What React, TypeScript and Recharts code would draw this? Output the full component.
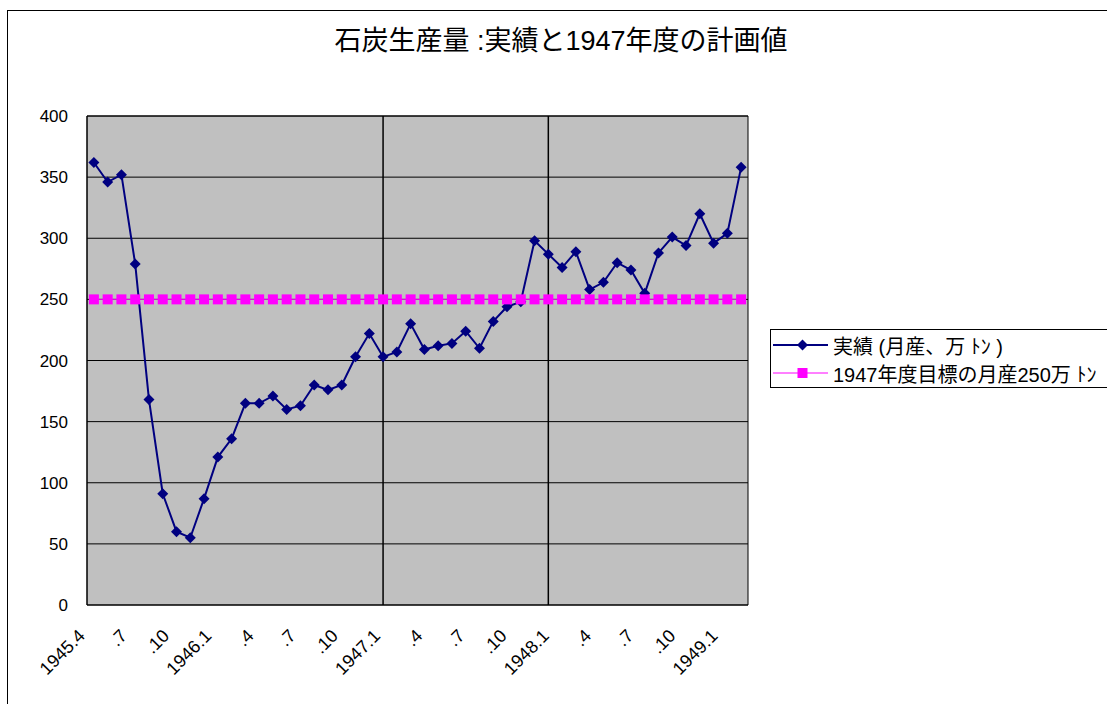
import { LineChart, Line, XAxis, YAxis, CartesianGrid, ReferenceLine, ReferenceArea, Legend } from 'recharts';

const FONT = '"Liberation Sans", Arial, "Noto Sans CJK JP", sans-serif';

// one label per month, April 1945 .. March 1949
const months = [
  '1945.4', '.5', '.6', '.7', '.8', '.9', '.10', '.11', '.12',
  '1946.1', '.2', '.3', '.4', '.5', '.6', '.7', '.8', '.9', '.10', '.11', '.12',
  '1947.1', '.2', '.3', '.4', '.5', '.6', '.7', '.8', '.9', '.10', '.11', '.12',
  '1948.1', '.2', '.3', '.4', '.5', '.6', '.7', '.8', '.9', '.10', '.11', '.12',
  '1949.1', '.2', '.3',
];

// 実績 (月産、万トン)
const actual = [
  362, 346, 352, 279, 168, 91, 60, 55, 87,
  121, 136, 165, 165, 171, 160, 163, 180, 176, 180, 203, 222,
  203, 207, 230, 209, 212, 214, 224, 210, 232, 244, 248, 298,
  287, 276, 289, 258, 264, 280, 274, 255, 288, 301, 294, 320,
  296, 304, 358,
];

// 1947年度目標
const target = months.map(() => 250);

const labelIdx = [0, 3, 6, 9, 12, 15, 18, 21, 24, 27, 30, 33, 36, 39, 42, 45];
const yTicks = [0, 50, 100, 150, 200, 250, 300, 350, 400];
const yearMarks = [21, 33];

const data = months.map((m, i) => ({ i, month: m, actual: actual[i], target: target[i] }));
const boundaries = [...months.map((_, i) => i - 0.5), months.length - 0.5];
const X_DOMAIN: [number, number] = [-0.5, months.length - 0.5];

function Diamond(p: any) {
  const { cx, cy, index } = p;
  if (cx == null || cy == null) return null;
  const r = 5.5;
  return <path key={`d${index}`} d={`M${cx},${cy - r}L${cx + r},${cy}L${cx},${cy + r}L${cx - r},${cy}Z`} fill="#000080" />;
}

function Square(p: any) {
  const { cx, cy, index } = p;
  if (cx == null || cy == null) return null;
  return <rect key={`s${index}`} x={cx - 5} y={cy - 5} width={10} height={10} fill="#ff00ff" />;
}

function MonthTick(p: any) {
  const { x, y, payload } = p;
  const tx = x - 1;
  return (
    <text x={tx} y={y} transform={`rotate(-45 ${tx} ${y})`} textAnchor="end" fontSize={18} fontFamily={FONT} fill="#000">
      {months[payload.value]}
    </text>
  );
}

function LegendBox({ payload }: any) {
  const items = [...(payload || [])].sort((a: any, b: any) => (a.dataKey === 'actual' ? -1 : b.dataKey === 'actual' ? 1 : 0));
  return (
    <div
      style={{
        border: '1px solid #000',
        background: '#fff',
        width: 360,
        height: 59,
        boxSizing: 'border-box',
        padding: '1px 0 0 2px',
        fontFamily: FONT,
        fontSize: 20,
        color: '#000',
      }}
    >
      {items.map((entry: any, i: number) => (
        <div key={i} style={{ display: 'flex', alignItems: 'center', height: 28, whiteSpace: 'nowrap' }}>
          <svg width={55} height={14} style={{ flex: 'none' }}>
            <line x1={0} y1={7} x2={55} y2={7} stroke={entry.color} strokeWidth={entry.dataKey === 'actual' ? 2 : 1} />
            {entry.dataKey === 'actual' ? (
              <path d="M29.5,1.5L35,7L29.5,12.5L24,7Z" fill={entry.color} />
            ) : (
              <rect x={24.5} y={2} width={10} height={10} fill={entry.color} />
            )}
          </svg>
          <span style={{ marginLeft: 5 }}>{entry.value}</span>
        </div>
      ))}
    </div>
  );
}

export default function App() {
  return (
    <div style={{ position: 'relative', width: 1107, height: 704, overflow: 'hidden', background: '#fff' }}>
      <style>{'body{margin:0;overflow:hidden}'}</style>
      <div style={{ position: 'absolute', left: 7, top: 10, width: 1200, height: 800, border: '1px solid #000' }} />
      <div
        style={{
          position: 'absolute',
          left: 0,
          top: 28,
          width: 1122,
          textAlign: 'center',
          fontFamily: FONT,
          fontSize: 27,
          lineHeight: '27px',
          color: '#000',
        }}
      >
        石炭生産量 :実績と1947年度の計画値
      </div>
      <div style={{ position: 'absolute', left: 0, top: 0 }}>
        <LineChart width={1107} height={704} data={data} margin={{ top: 116, right: 359, bottom: 39, left: 27 }}>
          <CartesianGrid fill="#c0c0c0" fillOpacity={1} stroke="#000" vertical={false} />
          <XAxis
            xAxisId="m"
            dataKey="i"
            type="number"
            domain={X_DOMAIN}
            allowDataOverflow
            ticks={boundaries}
            interval={0}
            height={0}
            tick={false}
            tickSize={-5}
            tickLine={{ stroke: '#000' }}
            axisLine={{ stroke: '#000' }}
          />
          <XAxis
            xAxisId="lbl"
            type="number"
            domain={X_DOMAIN}
            allowDataOverflow
            ticks={labelIdx}
            interval={0}
            height={60}
            tickSize={0}
            tickMargin={32}
            tickLine={false}
            axisLine={false}
            tick={<MonthTick />}
          />
          <YAxis
            domain={[0, 400]}
            ticks={yTicks}
            interval={0}
            width={60}
            tickSize={0}
            tickMargin={19}
            tickLine={false}
            axisLine={{ stroke: '#000' }}
            tick={{ fill: '#000', fontSize: 17, fontFamily: FONT }}
          />
          <ReferenceArea xAxisId="m" x1={X_DOMAIN[0]} x2={X_DOMAIN[1]} y1={0} y2={400} fill="none" stroke="#000" />
          {yearMarks.map((m) => (
            <ReferenceLine key={m} xAxisId="m" x={m} stroke="#000" strokeWidth={1.5} />
          ))}
          <Legend
            layout="horizontal"
            align="center"
            verticalAlign="middle"
            wrapperStyle={{ position: 'absolute', left: 770, top: 329, width: 360, height: 59 }}
            content={<LegendBox />}
          />
          <Line
            xAxisId="m"
            name="実績 (月産、万 ﾄﾝ )"
            dataKey="actual"
            stroke="#000080"
            strokeWidth={2}
            dot={<Diamond />}
            activeDot={false}
            isAnimationActive={false}
          />
          <Line
            xAxisId="m"
            name="1947年度目標の月産250万 ﾄﾝ"
            dataKey="target"
            stroke="#ff00ff"
            strokeWidth={1}
            dot={<Square />}
            activeDot={false}
            isAnimationActive={false}
          />
        </LineChart>
      </div>
    </div>
  );
}
